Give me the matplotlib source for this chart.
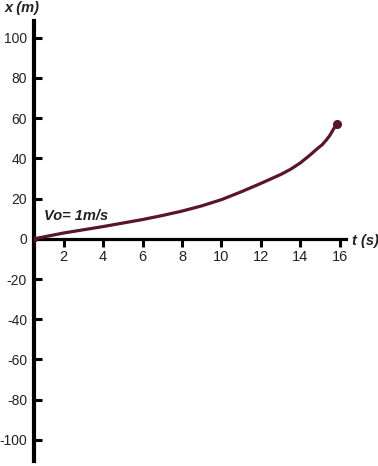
import matplotlib
matplotlib.use("Agg")
import matplotlib.pyplot as plt

t_vals = [0.5, 2, 4, 6, 7, 8, 9, 10, 11, 12, 13, 13.5, 14, 14.5, 14.8, 15.1, 15.3, 15.5, 15.7, 15.85]
x_vals = [0, 2.9, 6.1, 9.6, 11.6, 13.8, 16.4, 19.5, 23.4, 27.6, 32.0, 34.6, 37.8, 41.8, 44.4, 46.8, 49.0, 51.6, 55.0, 57.2]
x_ticks = [2, 4, 6, 8, 10, 12, 14, 16]
y_ticks = [-100, -80, -60, -40, -20, 0, 20, 40, 60, 80, 100]

plt.rcParams['font.family'] = ['Liberation Sans', 'DejaVu Sans']
plt.rcParams['axes.unicode_minus'] = False

fig = plt.figure(figsize=(3.78, 4.66), dpi=100)
ax = fig.add_axes([0.0899, 0.0107, 0.825, 0.9449])
ax.set_xlim(0.5, 16.3)
ax.set_ylim(-110.5, 108.5)

curve_color = '#5a1628'
ax.plot(t_vals, x_vals, color=curve_color, lw=2.3, solid_capstyle='round',
        solid_joinstyle='round', zorder=3)
ax.plot([t_vals[-1]], [x_vals[-1]], 'o', color=curve_color, ms=5.5, zorder=4)
ax.plot([t_vals[0]], [x_vals[0]], 'o', color=curve_color, ms=3.5, zorder=4)

for s in ['top', 'right']:
    ax.spines[s].set_visible(False)
ax.spines['left'].set_linewidth(3.0)
ax.spines['bottom'].set_position(('data', 0))
ax.spines['bottom'].set_linewidth(2.3)

ax.set_xticks(x_ticks)
ax.set_yticks(y_ticks)
ax.tick_params(axis='y', direction='in', length=6, width=2.2, pad=5,
               labelsize=10, labelcolor='#222222')
ax.tick_params(axis='x', direction='out', length=6, width=2.2, pad=2,
               labelsize=10.5, labelcolor='#222222')

fig.text(0.013, 0.983, 'x (m)', fontsize=10.5, fontweight='bold', fontstyle='italic',
         ha='left', va='center', color='#222222')
fig.text(0.932, 0.482, 't (s)', fontsize=10.5, fontweight='bold', fontstyle='italic',
         ha='left', va='center', color='#222222')
ax.text(1.0, 11.5, 'Vo= 1m/s', fontsize=10.5, fontweight='bold', fontstyle='italic',
        ha='left', va='center', color='#222222')

fig.savefig('out.png', dpi=100)
